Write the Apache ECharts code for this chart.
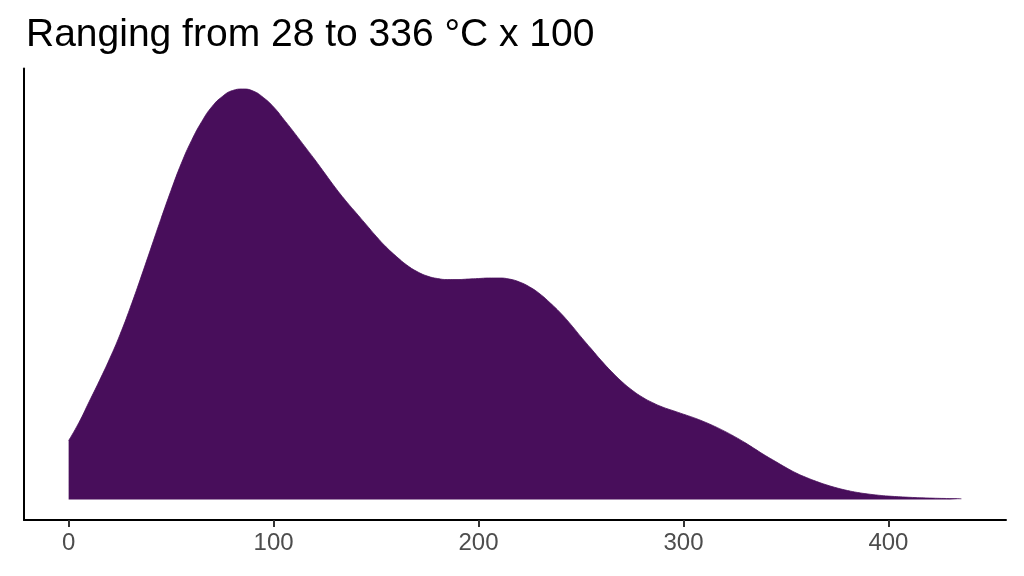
<!DOCTYPE html>
<html>
<head>
<meta charset="utf-8">
<script src="https://cdn.jsdelivr.net/npm/echarts@6/dist/echarts.min.js"></script>
<style>
html,body{margin:0;padding:0;background:#fff;}
#chart{width:1024px;height:576px;}
</style>
</head>
<body>
<div id="chart"></div>
<script>
// x positions (temperature, °C x 100 scale as plotted)
var xValues = [0,5,10,15,20,25,30,35,40,45,50,55,60,65,70,75,80,85,90,95,100,105,110,115,120,125,130,135,140,145,150,155,160,165,170,175,180,185,190,195,200,205,210,215,220,225,230,235,240,245,250,255,260,265,270,275,280,285,290,295,300,305,310,315,320,325,330,335,340,345,350,355,360,365,370,375,380,385,390,395,400,410,420,430,435.6];
// relative density heights
var density = [59,77,98,119,141,165,192,221,251,281,310,337,360,379,394,404,410,411.5,409.5,403,393.5,381,368,354.5,341,327,313,300,288,276,264,253,243.5,235,228.5,224,221.5,220.5,220.5,221,221.5,222,222,221,218,213,206,197,187,175.5,163,151,139,128,118,109.5,102.5,97,92.5,89,85.5,82,78,73.5,68.5,63,57,50.5,44,38,32,26.5,22,18,14.5,11.5,9,7,5.5,4.3,3.4,2.2,1.4,0.9,0.7];
var xTicks = [0,100,200,300,400];
var titleText = "Ranging from 28 to 336 °C x 100";

var pts = xValues.map(function(x,i){return [x, density[i]];});
var xmin = 0, xmax = xValues[xValues.length-1];
var xexp = (xmax - xmin) * 0.05;
var ymax = Math.max.apply(null, density);
var yexp = ymax * 0.05;

var chart = echarts.init(document.getElementById('chart'));
chart.setOption({
  animation: false,
  backgroundColor: '#ffffff',
  title: {
    text: titleText,
    left: 21, top: 11,
    textStyle: {fontFamily: 'Liberation Sans', fontSize: 39, fontWeight: 'normal', color: '#000000'}
  },
  grid: {left: 24, right: 18, top: 68.5, bottom: 56, containLabel: false},
  xAxis: {
    type: 'value',
    min: xmin - xexp, max: xmax + xexp,
    splitLine: {show: false},
    axisLine: {show: true, onZero: false, lineStyle: {color: '#000000', width: 2}},
    axisTick: {show: true, length: 7, lineStyle: {color: '#333333', width: 2}, customValues: xTicks},
    axisLabel: {show: true, margin: 11, color: '#4D4D4D', fontSize: 24, fontFamily: 'Liberation Sans',
      customValues: xTicks, showMinLabel: true, showMaxLabel: true}
  },
  yAxis: {
    type: 'value',
    min: -yexp, max: ymax + yexp,
    splitLine: {show: false},
    axisLine: {show: true, onZero: false, lineStyle: {color: '#000000', width: 2}},
    axisTick: {show: false},
    axisLabel: {show: false}
  },
  series: [{
    type: 'line',
    data: pts,
    smooth: true,
    symbol: 'none',
    lineStyle: {color: '#480E5B', width: 0.8},
    areaStyle: {color: '#480E5B', opacity: 1, origin: 0}
  }]
});
</script>
</body>
</html>
